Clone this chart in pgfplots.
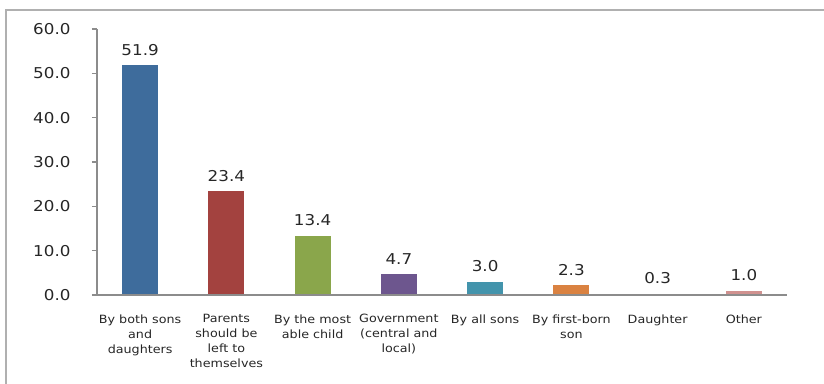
\documentclass[border=0pt]{standalone}
\usepackage{fontspec}
\setmainfont{DejaVu Sans}[FakeStretch=1.12]
\usepackage{pgfplots}
\pgfplotsset{compat=1.18}
\definecolor{cblue}{HTML}{3E6C9C}
\definecolor{cred}{HTML}{A3423F}
\definecolor{cgreen}{HTML}{8AA64B}
\definecolor{cpurple}{HTML}{6D568E}
\definecolor{cteal}{HTML}{4394AC}
\definecolor{corange}{HTML}{DA8241}
\definecolor{cdaughter}{HTML}{93A9CF}
\definecolor{cpink}{HTML}{D0918F}
\definecolor{txt}{HTML}{262626}
\definecolor{axgray}{HTML}{8C8C8C}
\definecolor{frame}{HTML}{B0B0B0}
\begin{document}
\begin{tikzpicture}
\useasboundingbox (-97bp,-89bp) rectangle (727bp,295bp);
\draw[color=frame, line width=1.6bp] (-91bp,-109bp) rectangle (745bp,285bp);
\begin{axis}[
  at={(0,0)}, anchor=south west,
  scale only axis, width=690bp, height=266bp,
  xmin=-0.5, xmax=7.5, ymin=0, ymax=60,
  axis x line=bottom, axis y line=left,
  axis line style={-, draw=axgray, line width=1.1bp},
  axis on top,
  ybar, bar width=36bp, bar shift=0pt,
  ytick={0,10,...,60},
  yticklabel style={/pgf/number format/fixed, /pgf/number format/precision=1, /pgf/number format/fixed zerofill, font=\fontsize{15}{16}\selectfont, text=txt, anchor=east, xshift=-18bp},
  /pgf/number format/assume math mode=true,
  ytick style={draw=axgray, line width=1.1bp},
  major tick length=5bp,
  tick align=outside,
  xtick={0,...,7},
  xticklabels={{By both sons\\and\\daughters}, {Parents\\should be\\left to\\themselves}, {By the most\\able child}, {Government\\(central and\\local)}, {By all sons}, {By first-born\\son}, {Daughter}, {Other}},
  xticklabel style={font=\fontsize{11.4}{15}\selectfont, text=txt, align=center, yshift=-11bp, anchor=north},
  x tick style={draw=none},
  extra x ticks={-0.5,0.5,...,7.5},
  extra x tick labels={},
  extra x tick style={tick style={draw=axgray, line width=1.1bp}, major tick length=5bp},
  nodes near coords,
  nodes near coords style={font=\fontsize{15}{16}\selectfont, text=txt, /pgf/number format/fixed, /pgf/number format/precision=1, /pgf/number format/fixed zerofill, /pgf/number format/assume math mode=true, yshift=6bp},
  clip=false,
]
\addplot[fill=cblue, draw=none] coordinates {(0,51.9)};
\addplot[fill=cred, draw=none] coordinates {(1,23.4)};
\addplot[fill=cgreen, draw=none] coordinates {(2,13.4)};
\addplot[fill=cpurple, draw=none] coordinates {(3,4.7)};
\addplot[fill=cteal, draw=none] coordinates {(4,3.0)};
\addplot[fill=corange, draw=none] coordinates {(5,2.3)};
\addplot[fill=cdaughter, draw=none] coordinates {(6,0.3)};
\addplot[fill=cpink, draw=none] coordinates {(7,1.0)};
\end{axis}
\end{tikzpicture}
\end{document}
